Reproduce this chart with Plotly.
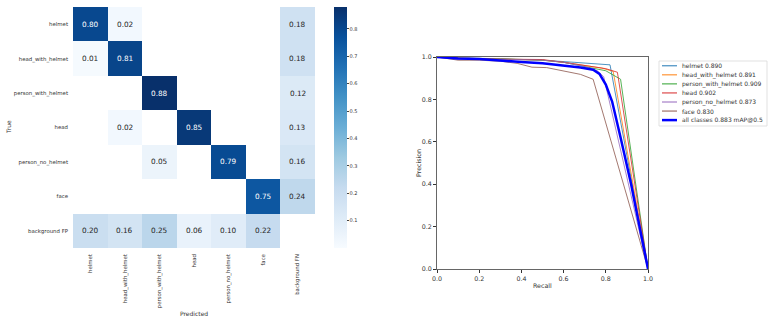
import numpy as np
import plotly.graph_objects as go

# ---------------- data ----------------
classes = ["helmet", "head_with_helmet", "person_with_helmet", "head",
           "person_no_helmet", "face"]
pred_labels = classes + ["background FN"]
true_labels = classes + ["background FP"]
nan = None
cm_rows = [
    [0.80, 0.02, nan, nan, nan, nan, 0.18],
    [0.01, 0.81, nan, nan, nan, nan, 0.18],
    [nan, nan, 0.88, nan, nan, nan, 0.12],
    [nan, 0.02, nan, 0.85, nan, nan, 0.13],
    [nan, nan, 0.05, nan, 0.79, nan, 0.16],
    [nan, nan, nan, nan, nan, 0.75, 0.24],
    [0.20, 0.16, 0.25, 0.06, 0.10, 0.22, nan],
]
cbar_ticks = [0.1, 0.2, 0.3, 0.4, 0.5, 0.6, 0.7, 0.8]

ap_values = [0.890, 0.891, 0.909, 0.902, 0.873, 0.830]
map_all = 0.883
recall_helmet = [0, 0.1, 0.3, 0.5, 0.65, 0.75, 0.82, 1.0]
prec_helmet = [1.0, 0.995, 0.99, 0.985, 0.975, 0.968, 0.963, 0.0]
recall_hwh = [0, 0.1, 0.3, 0.5, 0.6, 0.7, 0.78, 0.835, 1.0]
prec_hwh = [1.0, 0.993, 0.99, 0.985, 0.975, 0.96, 0.948, 0.932, 0.0]
recall_pwh = [0, 0.1, 0.3, 0.5, 0.6, 0.7, 0.8, 0.87, 1.0]
prec_pwh = [1.0, 0.995, 0.992, 0.985, 0.975, 0.955, 0.935, 0.895, 0.0]
recall_head = [0, 0.1, 0.3, 0.5, 0.6, 0.7, 0.8, 0.855, 1.0]
prec_head = [1.0, 0.995, 0.99, 0.988, 0.975, 0.96, 0.945, 0.928, 0.0]
recall_pnh = [0, 0.1, 0.3, 0.5, 0.6, 0.7, 0.76, 0.79, 1.0]
prec_pnh = [1.0, 0.99, 0.99, 0.985, 0.975, 0.955, 0.935, 0.907, 0.0]
recall_face = [0, 0.1, 0.2, 0.3, 0.38, 0.45, 0.52, 0.6, 0.68, 0.74, 1.0]
prec_face = [1.0, 0.985, 0.985, 0.98, 0.97, 0.952, 0.95, 0.935, 0.918, 0.895, 0.0]
recall_all = [0, 0.1, 0.2, 0.3, 0.4, 0.5, 0.6, 0.68, 0.74, 0.77, 0.8, 0.83, 0.87, 0.92, 1.0]
prec_all = [1.0, 0.993, 0.99, 0.985, 0.977, 0.97, 0.96, 0.95, 0.94, 0.92, 0.87, 0.79, 0.62, 0.40, 0.0]
pr_ticks = [0.0, 0.2, 0.4, 0.6, 0.8, 1.0]

class_colors = ["#1f77b4", "#ff7f0e", "#2ca02c", "#d62728", "#9467bd", "#8c564b"]
all_color = "blue"

# ---------------- figure ----------------
W, H = 773, 322
FONT = "DejaVu Sans"
TXT = "#333333"

def px_x(p):
    return p / W

def px_y(p):
    return 1 - p / H

z = [[np.nan if v is None else v for v in row] for row in cm_rows]

fig = go.Figure()
fig.add_trace(go.Heatmap(
    z=z, x=pred_labels, y=true_labels,
    colorscale="Blues", zmin=0.0, zmax=0.88,
    xaxis="x", yaxis="y", hoverongaps=False, xgap=0, ygap=0,
    colorbar=dict(
        x=px_x(334), xanchor="left", thickness=13,
        y=(px_y(7) + px_y(248)) / 2, yanchor="middle",
        len=px_y(7) - px_y(248), lenmode="fraction",
        outlinewidth=0, tickvals=cbar_ticks, ticks="outside", ticklen=2,
        tickcolor="#444", tickfont=dict(size=5, family=FONT, color=TXT),
        ypad=0, xpad=0,
    ),
    showlegend=False,
))

annotations = []
shapes = []
for i, row in enumerate(cm_rows):
    for j, v in enumerate(row):
        if v is None:
            continue
        annotations.append(dict(
            x=pred_labels[j], y=true_labels[i], xref="x", yref="y",
            xanchor="center", yanchor="middle",
            text=f"{v:.2f}", showarrow=False,
            font=dict(size=7.3, family=FONT,
                      color="white" if v > 0.5 else "#262626"),
        ))

pr_sets = [
    (recall_helmet, prec_helmet),
    (recall_hwh, prec_hwh),
    (recall_pwh, prec_pwh),
    (recall_head, prec_head),
    (recall_pnh, prec_pnh),
    (recall_face, prec_face),
]
legend_items = []
for k, (r, p) in enumerate(pr_sets):
    name = f"{classes[k]} {ap_values[k]:.3f}"
    fig.add_trace(go.Scatter(
        x=r, y=p, mode="lines", xaxis="x2", yaxis="y2",
        line=dict(color=class_colors[k], width=0.8),
        name=name, showlegend=False,
    ))
    legend_items.append((name, class_colors[k], 1.0))
all_name = f"all classes {map_all:.3f} mAP@0.5"
fig.add_trace(go.Scatter(
    x=recall_all, y=prec_all, mode="lines", xaxis="x2", yaxis="y2",
    line=dict(color=all_color, width=2.5),
    name=all_name, showlegend=False,
))
legend_items.append((all_name, all_color, 2.5))

# manual legend (matplotlib style, compact)
LX0, LX1, LY0, LY1 = 659, 767, 61, 126
shapes.append(dict(type="rect", xref="paper", yref="paper",
                   x0=px_x(LX0), x1=px_x(LX1), y0=px_y(LY1), y1=px_y(LY0),
                   line=dict(color="#d9d9d9", width=0.8), fillcolor="white",
                   layer="above"))
row_h = 9.05
for k, (name, col, lw) in enumerate(legend_items):
    yc = 65.8 + k * row_h
    shapes.append(dict(type="line", xref="paper", yref="paper",
                       x0=px_x(662), x1=px_x(677), y0=px_y(yc), y1=px_y(yc),
                       line=dict(color=col, width=lw), layer="above"))
    annotations.append(dict(text=name, x=px_x(680), y=px_y(yc),
                            xref="paper", yref="paper", xanchor="left",
                            yanchor="middle", showarrow=False,
                            font=dict(size=6, family=FONT, color=TXT)))

# axis titles
annotations += [
    dict(text="True", x=px_x(8), y=px_y(127), xref="paper", yref="paper",
         xanchor="center", yanchor="middle",
         textangle=-90, showarrow=False,
         font=dict(size=6, family=FONT, color=TXT)),
    dict(text="Predicted", x=px_x(194), y=px_y(313), xref="paper", yref="paper",
         xanchor="center", yanchor="middle",
         showarrow=False, font=dict(size=6, family=FONT, color=TXT)),
    dict(text="Precision", x=px_x(418), y=px_y(163), xref="paper", yref="paper",
         xanchor="center", yanchor="middle",
         textangle=-90, showarrow=False,
         font=dict(size=6.3, family=FONT, color=TXT)),
    dict(text="Recall", x=px_x(542), y=px_y(285), xref="paper", yref="paper",
         xanchor="center", yanchor="middle",
         showarrow=False, font=dict(size=6.3, family=FONT, color=TXT)),
]

fig.update_layout(
    width=W, height=H,
    margin=dict(l=0, r=0, t=0, b=0),
    paper_bgcolor="white", plot_bgcolor="white",
    font=dict(family=FONT, color=TXT),
    showlegend=False,
    xaxis=dict(
        domain=[px_x(73), px_x(315)], anchor="y",
        tickangle=-90, tickfont=dict(size=5.4, family=FONT, color=TXT),
        showgrid=False, zeroline=False, showline=False, ticks="",
        ticklabelstandoff=4, automargin=False,
    ),
    yaxis=dict(
        domain=[px_y(248), px_y(7)], anchor="x",
        autorange="reversed", tickfont=dict(size=5.4, family=FONT, color=TXT),
        showgrid=False, zeroline=False, showline=False, ticks="",
        ticklabelstandoff=4, automargin=False,
    ),
    xaxis2=dict(
        domain=[px_x(437), px_x(648)], anchor="y2", range=[0, 1],
        tickvals=pr_ticks, tickformat=".1f", ticks="outside", ticklen=3,
        tickcolor="#333", tickfont=dict(size=6.3, family=FONT, color=TXT),
        showgrid=False, zeroline=False, showline=True, linecolor="#666",
        linewidth=1, mirror=True, automargin=False,
    ),
    yaxis2=dict(
        domain=[px_y(269), px_y(57)], anchor="x2", range=[0, 1],
        tickvals=pr_ticks, tickformat=".1f", ticks="outside", ticklen=3,
        tickcolor="#333", tickfont=dict(size=6.3, family=FONT, color=TXT),
        showgrid=False, zeroline=False, showline=True, linecolor="#666",
        linewidth=1, mirror=True, automargin=False,
    ),
    annotations=annotations,
    shapes=shapes,
)

fig.write_html(
    "out.html",
    config={"displayModeBar": False},
    post_script="document.body.style.margin='0px';document.body.style.overflow='hidden';",
)
